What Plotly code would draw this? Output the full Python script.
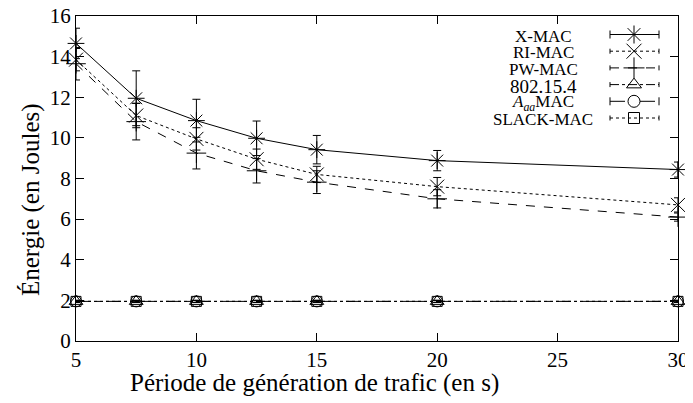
import plotly.graph_objects as go

# ---------------- data ----------------
periods = [5, 7.5, 10, 12.5, 15, 20, 30]

xmac = [14.65, 11.95, 10.85, 9.98, 9.42, 8.88, 8.44]
xmac_err = [0.75, 1.35, 1.05, 0.85, 0.70, 0.50, 0.37]

rimac = [13.85, 11.10, 9.95, 8.95, 8.20, 7.60, 6.70]
rimac_err = [0.55, 0.60, 0.55, 0.50, 0.40, 0.45, 0.35]

pwmac = [13.65, 10.80, 9.25, 8.38, 7.82, 7.00, 6.10]
pwmac_err = [0.80, 0.90, 0.78, 0.60, 0.56, 0.45, 0.20]

ieee = [1.95, 1.95, 1.95, 1.95, 1.95, 1.95, 1.95]
ieee_err = [0.05, 0.05, 0.05, 0.05, 0.05, 0.05, 0.05]

aaamac = [1.95, 1.95, 1.95, 1.95, 1.95, 1.95, 1.95]
aaamac_err = [0.05, 0.05, 0.05, 0.05, 0.05, 0.05, 0.05]

slackmac = [1.95, 1.95, 1.95, 1.95, 1.95, 1.95, 1.95]
slackmac_err = [0.05, 0.05, 0.05, 0.05, 0.05, 0.05, 0.05]

names = ["X-MAC", "RI-MAC", "PW-MAC", "802.15.4",
         "<i>A</i><sub><i>aa</i></sub>MAC", "SLACK-MAC"]
x_ticks = [5, 10, 15, 20, 25, 30]
y_ticks = [0, 2, 4, 6, 8, 10, 12, 14, 16]
x_title = "Période de génération de trafic (en s)"
y_title = "Énergie (en Joules)"

# ---------------- styles ----------------
FONT = "Liberation Serif"
series = [
    (xmac, xmac_err, "solid", "asterisk-open", 14),
    (rimac, rimac_err, "dot", "x-thin-open", 14),
    (pwmac, pwmac_err, "dash", "cross-thin-open", 14),
    (ieee, ieee_err, "dashdot", "triangle-up-open", 12),
    (aaamac, aaamac_err, "longdash", "circle-open", 11),
    (slackmac, slackmac_err, "dot", "square-open", 10),
]

fig = go.Figure()
for (vals, errs, dash, sym, size), name in zip(series, names):
    fig.add_trace(go.Scatter(
        x=periods, y=vals, name=name, mode="lines+markers",
        line=dict(color="black", width=1, dash=dash),
        marker=dict(symbol=sym, size=size, color="black",
                    line=dict(color="black", width=1)),
        error_y=dict(type="data", array=errs, visible=True,
                     color="black", thickness=1, width=4),
        showlegend=False, cliponaxis=False,
    ))

# page body has an 8px margin: figure is offset by (8, 8) in the window
OFF = 8
W, H = 693 - OFF, 403 - OFF
# plot area in window pixels
L, R, T, B = 76, 678, 16, 341


def px(xp):
    return (xp - L) / (R - L)


def py(yp):
    return (B - yp) / (B - T)


key_x0, key_x1, key_xm = 610, 659, 634
row0, drow = 34.5, 16.7
for i, ((vals, errs, dash, sym, size), name) in enumerate(zip(series, names)):
    yy = row0 + i * drow
    fig.add_trace(go.Scatter(
        x=[key_x0, key_x1], y=[yy, yy], mode="lines",
        line=dict(color="black", width=1, dash=dash),
        xaxis="x2", yaxis="y2", showlegend=False, hoverinfo="skip"))
    fig.add_trace(go.Scatter(
        x=[key_x0, key_x1], y=[yy, yy], mode="markers",
        marker=dict(size=1, color="rgba(0,0,0,0)"),
        error_y=dict(type="constant", value=4 if dash in ("solid", "longdash") else 2.5,
                     color="black", thickness=1, width=0),
        xaxis="x2", yaxis="y2", showlegend=False, hoverinfo="skip"))
    fig.add_trace(go.Scatter(
        x=[key_xm], y=[yy], mode="markers",
        marker=dict(symbol=sym, size=size + 1, color="black",
                    line=dict(color="black", width=1)),
        xaxis="x2", yaxis="y2", showlegend=False, hoverinfo="skip"))
    fig.add_annotation(
        x=543, y=yy + 1.5, xref="x2", yref="y2", text=name, showarrow=False,
        xanchor="center", yanchor="middle",
        font=dict(family=FONT, size=19 if name == "802.15.4" else 17, color="black"))

# axis titles (placed like the gnuplot/LaTeX original)
fig.add_annotation(x=px(314), y=py(383), xref="paper", yref="paper", text=x_title,
                   showarrow=False, xanchor="center", yanchor="middle",
                   font=dict(family=FONT, size=25, color="black"))
fig.add_annotation(x=px(31), y=py(200), xref="paper", yref="paper", text=y_title,
                   showarrow=False, xanchor="center", yanchor="middle",
                   textangle=-90, font=dict(family=FONT, size=25, color="black"))

axis_common = dict(
    showgrid=False, zeroline=False, showline=True, linecolor="black",
    linewidth=1, mirror="ticks", ticks="inside", ticklen=8, tickwidth=1,
    tickcolor="black", tickfont=dict(family=FONT, size=21, color="black"),
    automargin=False, ticklabeloverflow="allow",
)

fig.update_layout(
    width=W, height=H,
    margin=dict(l=L - OFF, r=W - (R - OFF), t=T - OFF, b=H - (B - OFF),
                autoexpand=False),
    paper_bgcolor="white", plot_bgcolor="white",
    font=dict(family=FONT, color="black"),
    xaxis=dict(range=[5, 30], tickvals=x_ticks, **axis_common),
    yaxis=dict(range=[0, 16], tickvals=y_ticks, **axis_common),
    xaxis2=dict(range=[L, R], overlaying="x", visible=False, fixedrange=True),
    yaxis2=dict(range=[B, T], overlaying="y", visible=False, fixedrange=True),
)

fig.write_html("out.html")
